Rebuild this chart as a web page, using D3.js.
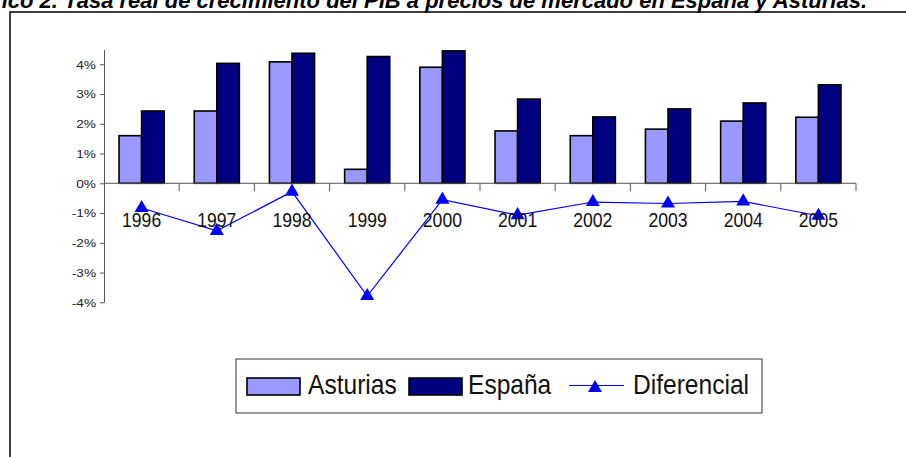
<!DOCTYPE html>
<html>
<head>
<meta charset="utf-8">
<script src="https://cdn.jsdelivr.net/npm/d3@7"></script>
<style>
  body { margin: 0; background: #fff; }
  svg { display: block; font-family: "Liberation Sans", Arial, sans-serif; }
</style>
</head>
<body>
<div id="vis1"></div>
<script>
// data
var years = ["1996","1997","1998","1999","2000","2001","2002","2003","2004","2005"];
var asturias = [1.60, 2.43, 4.08, 0.47, 3.90, 1.76, 1.60, 1.82, 2.09, 2.22];
var espana   = [2.43, 4.03, 4.37, 4.26, 4.45, 2.83, 2.23, 2.50, 2.70, 3.31];
var diferencial = [-0.83, -1.60, -0.28, -3.79, -0.55, -1.07, -0.63, -0.68, -0.61, -1.09];
var yTicks = [-4, -3, -2, -1, 0, 1, 2, 3, 4];
var seriesNames = ["Asturias", "España"];
var seriesColors = ["#9999ff", "#000080"];

var width = 906, height = 457;
var plot = {left: 104, right: 856, top: 49.4, bottom: 302.3};

var svg = d3.select("#vis1").append("svg")
    .attr("width", width)
    .attr("height", height);

// title (top is clipped in the original)
svg.append("text")
    .attr("x", 867)
    .attr("y", 7.5)
    .attr("text-anchor", "end")
    .style("font-weight", "bold")
    .style("font-style", "italic")
    .style("font-size", "22px")
    .text("Gráfico 2. Tasa real de crecimiento del PIB a precios de mercado en España y Asturias.");

// chart frame
svg.append("rect")
    .attr("x", 10).attr("y", 12)
    .attr("width", 1000).attr("height", 600)
    .attr("fill", "none")
    .attr("stroke", "#000")
    .attr("stroke-width", 1.5);

var x0 = d3.scaleBand().domain(years).range([plot.left, plot.right]).padding(0);
var x1 = d3.scaleBand().domain(seriesNames)
    .range([x0.bandwidth() * 0.2, x0.bandwidth() * 0.8]);
var y = d3.scaleLinear().domain([-4, 4.5]).range([plot.bottom, plot.top]);

// bars
var rows = years.map(function(d, i) {
  return {year: d, values: [asturias[i], espana[i]]};
});

var groups = svg.append("g").attr("class", "bars")
  .selectAll("g")
    .data(rows)
  .enter().append("g")
    .attr("transform", function(d) { return "translate(" + x0(d.year) + ",0)"; });

groups.selectAll("rect")
    .data(function(d) { return d.values.map(function(v, j) { return {name: seriesNames[j], value: v, j: j}; }); })
  .enter().append("rect")
    .attr("x", function(d) { return x1(d.name); })
    .attr("width", x1.bandwidth())
    .attr("y", function(d) { return y(Math.max(0, d.value)); })
    .attr("height", function(d) { return Math.abs(y(d.value) - y(0)); })
    .style("fill", function(d) { return seriesColors[d.j]; })
    .style("stroke", "#000")
    .style("stroke-width", 1.6);

// y axis
var yAxis = svg.append("g")
    .attr("transform", "translate(" + plot.left + ",0)")
    .call(d3.axisLeft(y).tickValues(yTicks).tickSize(4).tickSizeOuter(0)
      .tickFormat(function(d) { return d + "%"; }));
yAxis.attr("font-family", null).attr("font-size", null);
yAxis.select(".domain").attr("stroke", "#555");
yAxis.selectAll(".tick line").attr("stroke", "#555");
yAxis.selectAll(".tick text")
    .attr("x", null).attr("dy", null)
    .attr("transform", "translate(-8,3.8) scale(1.3,1)")
    .style("font-size", "10.5px")
    .style("fill", "#222");

// x axis line at zero with tick marks on category boundaries
var xg = svg.append("g").attr("class", "xaxis");
xg.append("line")
    .attr("x1", plot.left).attr("x2", plot.right)
    .attr("y1", y(0)).attr("y2", y(0))
    .attr("stroke", "#555");
xg.selectAll("line.tk")
    .data(years.slice(1).concat(["end"]))
  .enter().append("line")
    .attr("class", "tk")
    .attr("x1", function(d) { return d === "end" ? plot.right : x0(d); })
    .attr("x2", function(d) { return d === "end" ? plot.right : x0(d); })
    .attr("y1", y(0)).attr("y2", y(0) + 8)
    .attr("stroke", "#555");

// diferencial line + triangles
var cx = function(i) { return x0(years[i]) + x0.bandwidth() / 2; };
var line = d3.line()
    .x(function(d, i) { return cx(i); })
    .y(function(d) { return y(d); });

svg.append("path")
    .datum(diferencial)
    .attr("d", line)
    .attr("fill", "none")
    .attr("stroke", "#0000ff")
    .attr("stroke-width", 1.2);

var tri = d3.symbol().type(d3.symbolTriangle).size(85);
svg.selectAll("path.mark")
    .data(diferencial)
  .enter().append("path")
    .attr("class", "mark")
    .attr("d", tri)
    .attr("transform", function(d, i) { return "translate(" + cx(i) + "," + y(d) + ")"; })
    .attr("fill", "#0000ff");

// category labels
svg.append("g").selectAll("text")
    .data(years)
  .enter().append("text")
    .attr("transform", function(d) {
      return "translate(" + (x0(d) + x0.bandwidth() / 2) + "," + (y(0) + 44) + ") scale(0.88,1)";
    })
    .attr("text-anchor", "middle")
    .style("font-size", "20px")
    .style("fill", "#111")
    .text(function(d) { return d; });

// legend
var legend = svg.append("g").attr("class", "legend");
legend.append("rect")
    .attr("x", 236).attr("y", 359)
    .attr("width", 526).attr("height", 54)
    .attr("fill", "#fff")
    .attr("stroke", "#333")
    .attr("stroke-width", 1);

var legendItems = [
  {name: "Asturias", type: "bar", color: seriesColors[0], sx: 247, tx: 308},
  {name: "España", type: "bar", color: seriesColors[1], sx: 409, tx: 468},
  {name: "Diferencial", type: "line", color: "#0000ff", sx: 569, tx: 633}
];

legendItems.forEach(function(it) {
  if (it.type === "bar") {
    legend.append("rect")
      .attr("x", it.sx).attr("y", 378)
      .attr("width", 53).attr("height", 17)
      .style("fill", it.color)
      .style("stroke", "#000")
      .style("stroke-width", 1.6);
  } else {
    legend.append("line")
      .attr("x1", it.sx).attr("x2", it.sx + 55)
      .attr("y1", 385.5).attr("y2", 385.5)
      .attr("stroke", it.color)
      .attr("stroke-width", 1.2);
    legend.append("path")
      .attr("d", tri)
      .attr("transform", "translate(" + (it.sx + 26) + ",388)")
      .attr("fill", it.color);
  }
  legend.append("text")
    .attr("transform", "translate(" + it.tx + ",394) scale(0.91,1)")
    .style("font-size", "27px")
    .style("fill", "#111")
    .text(it.name);
});
</script>
</body>
</html>
